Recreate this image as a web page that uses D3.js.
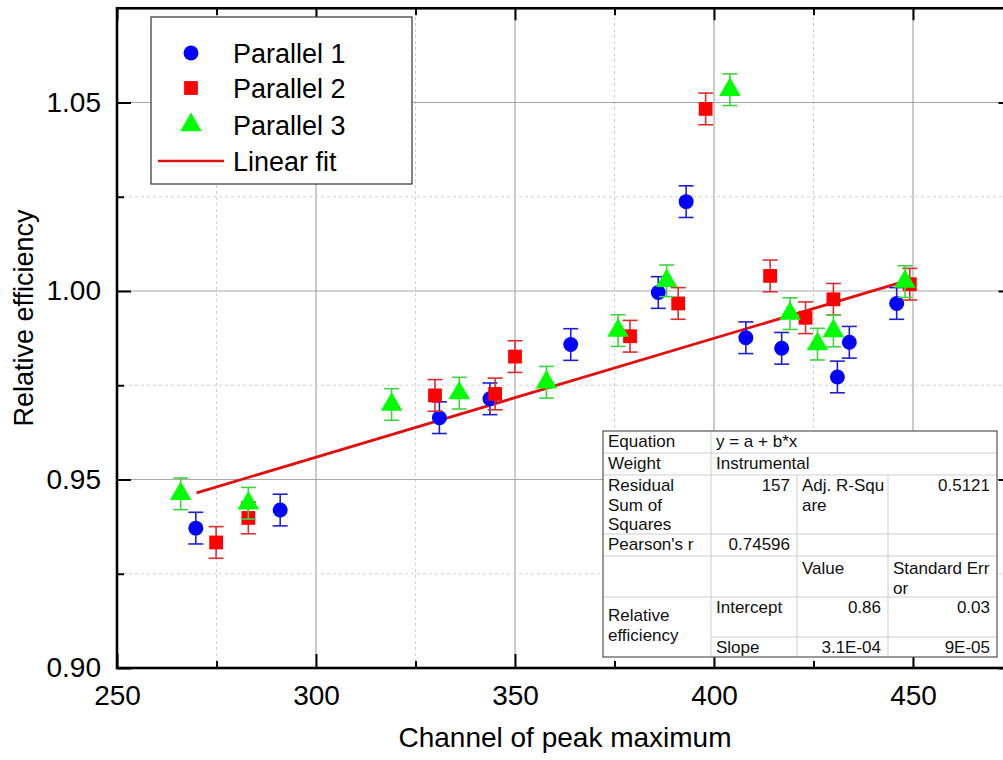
<!DOCTYPE html>
<html>
<head>
<meta charset="utf-8">
<script src="https://cdn.jsdelivr.net/npm/d3@7"></script>
<style>
  html, body { margin: 0; padding: 0; background: #fff; }
  svg { display: block; font-family: Arial, "Liberation Sans", sans-serif; }
</style>
</head>
<body>
<svg id="chart" width="1003" height="760"></svg>
<script>
// Parallel 1 (blue circles)
const p1X = [269.8, 291.0, 331.0, 343.7, 364.0, 386.0, 393.0, 408.0, 417.0, 431.0, 434.0, 445.9];
const p1Y = [0.9371, 0.9419, 0.9664, 0.9714, 0.9858, 0.9996, 1.0237, 0.9876, 0.9848, 0.9772, 0.9864, 0.9967];
const p1Err = [0.0042, 0.0042, 0.0042, 0.0042, 0.0042, 0.0042, 0.0042, 0.0042, 0.0042, 0.0042, 0.0042, 0.0042];

// Parallel 2 (red squares)
const p2X = [274.9, 283.0, 329.9, 345.0, 350.0, 378.9, 391.0, 397.9, 414.1, 423.0, 430.0, 449.2];
const p2Y = [0.9333, 0.9398, 0.9723, 0.9727, 0.9826, 0.9880, 0.9967, 1.0483, 1.0040, 0.9929, 0.9978, 1.0018];
const p2Err = [0.0042, 0.0042, 0.0042, 0.0042, 0.0042, 0.0042, 0.0042, 0.0042, 0.0042, 0.0042, 0.0042, 0.0042];

// Parallel 3 (green triangles)
const p3X = [266.0, 283.0, 319.0, 336.0, 357.9, 375.9, 388.1, 404.0, 419.1, 426.0, 430.0, 448.0];
const p3Y = [0.9462, 0.9437, 0.9699, 0.9729, 0.9758, 0.9895, 1.0027, 1.0534, 0.9940, 0.9859, 0.9894, 1.0025];
const p3Err = [0.0042, 0.0042, 0.0042, 0.0042, 0.0042, 0.0042, 0.0042, 0.0042, 0.0042, 0.0042, 0.0042, 0.0042];

// linear fit y = a + b*x
const fitA = 0.8613;
const fitB = 3.154e-4;
const fitFrom = 270;
const fitTo = 447;

// axes
const xMajor = [250, 300, 350, 400, 450];
const xMinor = [275, 325, 375, 425, 475];
const yMajor = [0.90, 0.95, 1.00, 1.05];
const yMinor = [0.925, 0.975, 1.025];

const seriesNames = ["Parallel 1", "Parallel 2", "Parallel 3"];
const fitName = "Linear fit";

// fit report table text
const tableRows = [
  ["Equation", "y = a + b*x"],
  ["Weight", "Instrumental"],
  ["Residual\nSum of\nSquares", "157", "Adj. R-Squ\nare", "0.5121"],
  ["Pearson's r", "0.74596", "", ""],
  ["", "", "Value", "Standard Err\nor"],
  ["Relative\nefficiency", "Intercept", "0.86", "0.03"],
  ["", "Slope", "3.1E-04", "9E-05"]
];

const svg = d3.select("#chart");

const x = d3.scaleLinear().domain([250, 475]).range([117, 1012.5]);
const y = d3.scaleLinear().domain([0.90, 1.075]).range([668, 8.25]);

svg.append("rect").attr("width", 1003).attr("height", 760).attr("fill", "#fff");

// grid
const grid = svg.append("g");
grid.selectAll(".gxm").data(xMajor.slice(1)).enter().append("line")
  .attr("x1", d => x(d)).attr("x2", d => x(d))
  .attr("y1", y(0.90)).attr("y2", y(1.075))
  .attr("stroke", "#a8a8a8").attr("stroke-width", 1.2);
grid.selectAll(".gxn").data(xMinor).enter().append("line")
  .attr("x1", d => x(d)).attr("x2", d => x(d))
  .attr("y1", y(0.90)).attr("y2", y(1.075))
  .attr("stroke", "#cfcfcf").attr("stroke-width", 1).attr("stroke-dasharray", "3,3");
grid.selectAll(".gym").data(yMajor.slice(1)).enter().append("line")
  .attr("x1", x(250)).attr("x2", x(475))
  .attr("y1", d => y(d)).attr("y2", d => y(d))
  .attr("stroke", "#a8a8a8").attr("stroke-width", 1.2);
grid.selectAll(".gyn").data(yMinor).enter().append("line")
  .attr("x1", x(250)).attr("x2", x(475))
  .attr("y1", d => y(d)).attr("y2", d => y(d))
  .attr("stroke", "#cfcfcf").attr("stroke-width", 1).attr("stroke-dasharray", "3,3");

// axes with inward ticks
function styleAxis(g) {
  g.select(".domain").remove();
  g.selectAll(".tick line").attr("stroke", "#000").attr("stroke-width", 2);
  g.selectAll(".tick text").attr("font-family", "Arial, 'Liberation Sans', sans-serif")
    .attr("font-size", 28).attr("fill", "#000");
}

svg.append("g").attr("transform", `translate(0,${y(0.90)})`)
  .call(d3.axisBottom(x).tickValues(xMajor).tickSize(-14).tickFormat(d3.format("d")))
  .call(styleAxis)
  .call(g => g.selectAll(".tick text").attr("y", 17));
svg.append("g").attr("transform", `translate(0,${y(0.90)})`)
  .call(d3.axisBottom(x).tickValues(xMinor).tickSize(-7).tickFormat(""))
  .call(styleAxis);
svg.append("g").attr("transform", `translate(0,${y(1.075)})`)
  .call(d3.axisTop(x).tickValues(xMajor).tickSize(-12).tickFormat(""))
  .call(styleAxis);
svg.append("g").attr("transform", `translate(0,${y(1.075)})`)
  .call(d3.axisTop(x).tickValues(xMinor).tickSize(-7).tickFormat(""))
  .call(styleAxis);

svg.append("g").attr("transform", `translate(${x(250)},0)`)
  .call(d3.axisLeft(y).tickValues(yMajor).tickSize(-14).tickFormat(d3.format(".2f")))
  .call(styleAxis)
  .call(g => g.selectAll(".tick text").attr("x", -16));
svg.append("g").attr("transform", `translate(${x(250)},0)`)
  .call(d3.axisLeft(y).tickValues(yMinor).tickSize(-7).tickFormat(""))
  .call(styleAxis);
svg.append("g").attr("transform", `translate(${x(475)},0)`)
  .call(d3.axisRight(y).tickValues(yMajor).tickSize(-14).tickFormat(""))
  .call(styleAxis);
svg.append("g").attr("transform", `translate(${x(475)},0)`)
  .call(d3.axisRight(y).tickValues(yMinor).tickSize(-7).tickFormat(""))
  .call(styleAxis);

// frame
svg.append("rect")
  .attr("x", x(250)).attr("y", y(1.075))
  .attr("width", x(475) - x(250)).attr("height", y(0.90) - y(1.075))
  .attr("fill", "none").attr("stroke", "#000").attr("stroke-width", 2.6);

// axis titles
svg.append("text").attr("x", 565).attr("y", 747).attr("text-anchor", "middle")
  .attr("font-size", 28).text("Channel of peak maximum");
svg.append("text").attr("transform", "translate(33,318) rotate(-90)").attr("text-anchor", "middle")
  .attr("font-size", 27).text("Relative efficiency");

// fit line
const fitXs = [fitFrom, fitTo];
svg.append("path")
  .datum(fitXs)
  .attr("d", d3.line().x(d => x(d)).y(d => y(fitA + fitB * d)))
  .attr("stroke", "#e01010").attr("stroke-width", 2.8).attr("fill", "none");

// series
const series = [
  { xs: p1X, ys: p1Y, err: p1Err, fill: "#0000ff", bar: "#1f1fd0", symbol: d3.symbolCircle, size: 175 },
  { xs: p2X, ys: p2Y, err: p2Err, fill: "#ff0000", bar: "#d83030", symbol: d3.symbolSquare, size: 190 },
  { xs: p3X, ys: p3Y, err: p3Err, fill: "#00ff00", bar: "#3fd43f", symbol: d3.symbolTriangle, size: 200 }
];

series.forEach(s => {
  const pts = s.xs.map((v, i) => ({ x: v, y: s.ys[i], e: s.err[i] }));
  const g = svg.append("g");
  const eb = g.selectAll(".eb").data(pts).enter().append("g")
    .attr("stroke", s.bar).attr("stroke-width", 1.6).attr("fill", "none");
  eb.append("line").attr("x1", d => x(d.x)).attr("x2", d => x(d.x))
    .attr("y1", d => y(d.y - d.e)).attr("y2", d => y(d.y + d.e));
  eb.append("line").attr("x1", d => x(d.x) - 7.5).attr("x2", d => x(d.x) + 7.5)
    .attr("y1", d => y(d.y + d.e)).attr("y2", d => y(d.y + d.e));
  eb.append("line").attr("x1", d => x(d.x) - 7.5).attr("x2", d => x(d.x) + 7.5)
    .attr("y1", d => y(d.y - d.e)).attr("y2", d => y(d.y - d.e));
  g.selectAll(".pt").data(pts).enter().append("path")
    .attr("transform", d => `translate(${x(d.x)},${y(d.y)})`)
    .attr("d", d3.symbol().type(s.symbol).size(s.size))
    .attr("fill", s.fill);
});

// legend
const legend = svg.append("g");
legend.append("rect").attr("x", 151).attr("y", 17).attr("width", 261).attr("height", 167)
  .attr("fill", "#fff").attr("stroke", "#333").attr("stroke-width", 1.2);
const legendY = [53, 88, 125, 161];
series.forEach((s, i) => {
  legend.append("path")
    .attr("transform", `translate(191,${legendY[i]})`)
    .attr("d", d3.symbol().type(s.symbol).size(s.size))
    .attr("fill", s.fill);
  legend.append("text").attr("x", 233).attr("y", legendY[i] + 10)
    .attr("font-size", 27).text(seriesNames[i]);
});
legend.append("line").attr("x1", 158).attr("x2", 224).attr("y1", legendY[3]).attr("y2", legendY[3])
  .attr("stroke", "#e01010").attr("stroke-width", 2.5);
legend.append("text").attr("x", 233).attr("y", legendY[3] + 10)
  .attr("font-size", 27).text(fitName);

// fit report table
const colX = [603, 711, 797, 888, 997];
const rowY = [431, 453, 475, 534, 556, 597, 637, 657];
const tbl = svg.append("g").attr("font-size", 17);
tbl.append("rect").attr("x", colX[0]).attr("y", rowY[0])
  .attr("width", colX[4] - colX[0]).attr("height", rowY[7] - rowY[0])
  .attr("fill", "#fff");

const inner = "#cfcfcf";
[1, 2, 3, 4, 5].forEach(r => {
  tbl.append("line").attr("x1", colX[0]).attr("x2", colX[4])
    .attr("y1", rowY[r]).attr("y2", rowY[r]).attr("stroke", inner);
});
tbl.append("line").attr("x1", colX[1]).attr("x2", colX[4])
  .attr("y1", rowY[6]).attr("y2", rowY[6]).attr("stroke", inner);
tbl.append("line").attr("x1", colX[1]).attr("x2", colX[1])
  .attr("y1", rowY[0]).attr("y2", rowY[7]).attr("stroke", inner);
[2, 3].forEach(c => {
  tbl.append("line").attr("x1", colX[c]).attr("x2", colX[c])
    .attr("y1", rowY[2]).attr("y2", rowY[7]).attr("stroke", inner);
});
tbl.append("rect").attr("x", colX[0]).attr("y", rowY[0])
  .attr("width", colX[4] - colX[0]).attr("height", rowY[7] - rowY[0])
  .attr("fill", "none").attr("stroke", "#555").attr("stroke-width", 1.2);

function cellText(str, c, r, right, baseY) {
  const lines = str.split("\n");
  const t = tbl.append("text")
    .attr("text-anchor", right ? "end" : "start")
    .attr("fill", "#111");
  lines.forEach((ln, k) => {
    t.append("tspan")
      .attr("x", right ? colX[c + 1] - 7 : colX[c] + 5)
      .attr("y", baseY + k * 19.5)
      .text(ln);
  });
}

const numeric = s => /^[0-9.E\-]+$/.test(s);
tableRows.forEach((row, r) => {
  row.forEach((cell, c) => {
    if (!cell) return;
    let base = rowY[r] + 16;
    if (r === 4) base = rowY[r] + 18;
    if (r === 5 && c === 0) base = rowY[5] + 24;
    cellText(cell, c, r, numeric(cell), base);
  });
});
</script>
</body>
</html>
